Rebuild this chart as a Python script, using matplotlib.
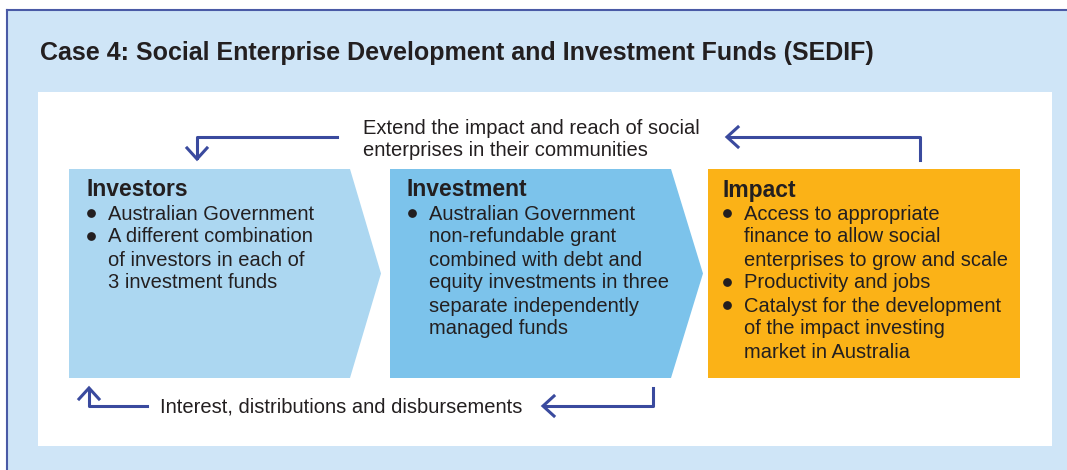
import matplotlib
matplotlib.use("Agg")
import matplotlib.pyplot as plt
from matplotlib import font_manager
from matplotlib.patches import Polygon, Rectangle

names = set(f.name for f in font_manager.fontManager.ttflist)
narrow = "Liberation Sans Narrow" if "Liberation Sans Narrow" in names else "Liberation Sans"

title = "Case 4: Social Enterprise Development and Investment Funds (SEDIF)"
top_note = ["Extend the impact and reach of social", "enterprises in their communities"]
bottom_note = "Interest, distributions and disbursements"

headings = ["Investors", "Investment", "Impact"]
bullets = [
    [["Australian Government"],
     ["A different combination", "of investors in each of", "3 investment funds"]],
    [["Australian Government", "non-refundable grant", "combined with debt and",
      "equity investments in three", "separate independently", "managed funds"]],
    [["Access to appropriate", "finance to allow social", "enterprises to grow and scale"],
     ["Productivity and jobs"],
     ["Catalyst for the development", "of the impact investing", "market in Australia"]],
]
box_colors = ["#acd7f1", "#7cc3eb", "#fbb217"]
box_left = [69, 390, 708]
box_right = [350, 671, 1020]
tip = [381, 703, None]
box_top, box_bot = 169, 378

navy = "#3a4a9e"
txt = "#231f20"

W, H = 1067, 470
fig = plt.figure(figsize=(W / 100, H / 100), dpi=100)
ax = fig.add_axes([0, 0, 1, 1])
ax.set_xlim(0, W)
ax.set_ylim(H, 0)
ax.axis("off")

# background panels
ax.add_patch(Rectangle((0, 0), W, H, color="white", zorder=0))
ax.add_patch(Rectangle((7, 10), W, H, facecolor="#cfe5f7", edgecolor="none", zorder=1))
ax.plot([7, W], [10, 10], color="#4a5aa6", lw=1.5, zorder=2)
ax.plot([7, 7], [10, H], color="#4a5aa6", lw=1.5, zorder=2)
ax.add_patch(Rectangle((38, 92), 1052 - 38, 446 - 92, facecolor="white", edgecolor="none", zorder=2))

ax.text(40, 53, title, fontsize=18, fontweight="bold", color=txt, family=narrow,
        va="center", ha="left", zorder=5)

# chevrons / box
mid = (box_top + box_bot) / 2
for i in range(3):
    l, r = box_left[i], box_right[i]
    if tip[i] is None:
        pts = [(l, box_top), (r, box_top), (r, box_bot), (l, box_bot)]
    else:
        pts = [(l, box_top), (r, box_top), (tip[i], mid), (r, box_bot), (l, box_bot)]
    ax.add_patch(Polygon(pts, closed=True, facecolor=box_colors[i], edgecolor="none", zorder=3))

    x0 = l + 17 if i < 2 else l + 14
    ax.text(x0, 190, headings[i], fontsize=16.5, fontweight="bold", color=txt, family=narrow,
            va="center", ha="left", zorder=5)
    y = 214
    for item in bullets[i]:
        ax.plot(x0 + 5, y - 1.5, "o", ms=6.3, color=txt, mec="none", zorder=5)
        for line in item:
            ax.text(x0 + 22, y, line, fontsize=14.5, color=txt, family=narrow,
                    va="center", ha="left", zorder=5)
            y += 23

# notes
ax.text(363, 128, top_note[0], fontsize=14.5, color=txt, family=narrow, va="center", ha="left", zorder=5)
ax.text(363, 151, top_note[1], fontsize=14.5, color=txt, family=narrow, va="center", ha="left", zorder=5)
ax.text(160, 407, bottom_note, fontsize=14.5, color=txt, family=narrow, va="center", ha="left", zorder=5)

# arrows (open V heads)
lw = 2.2
def head(x, y, dx, dy):
    hl, hw = 11, 10
    px, py = -dy, dx
    bx, by = x - dx * hl, y - dy * hl
    ax.plot([bx + px * hw, x, bx - px * hw], [by + py * hw, y, by - py * hw],
            color=navy, lw=lw, solid_joinstyle="miter", zorder=4)

ax.plot([337, 197, 197], [137, 137, 158], color=navy, lw=lw, zorder=4)
head(197, 159, 0, 1)
ax.plot([920, 920, 728], [160, 137, 137], color=navy, lw=lw, zorder=4)
head(727, 137, -1, 0)
ax.plot([653, 653, 544], [388, 406, 406], color=navy, lw=lw, zorder=4)
head(543, 406, -1, 0)
ax.plot([147, 89, 89], [406, 406, 389], color=navy, lw=lw, zorder=4)
head(89, 388, 0, -1)

fig.savefig("out.png", dpi=100)
